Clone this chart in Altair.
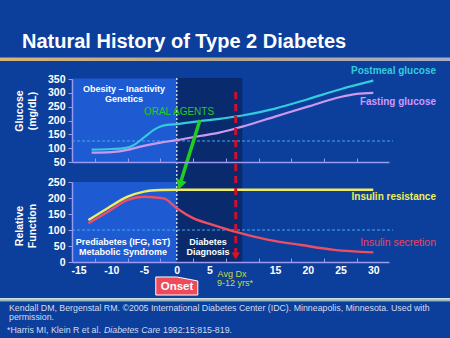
import altair as alt
import pandas as pd

# ---------------- data ----------------
postmeal_x = [-13, -10, -8, -6.5, -5, -3.5, -2.5, -1.5, 0, 3.5, 6.5, 10, 15, 20, 25, 30]
postmeal_y = [95, 97, 100, 112, 139, 166, 178, 184, 187, 198, 206, 218, 243, 277, 313, 344]

fasting_x = [-13, -10, -7.5, -6, -4.5, -2.5, 0, 3.5, 6.5, 10, 15, 20, 25, 27.5, 30]
fasting_y = [84, 86, 94, 103, 111, 120, 129, 144, 156, 178, 214, 250, 285, 296, 300]

resist_x = [-13.5, -10.5, -7.5, -5, -2.5, 0, 10, 20, 30]
resist_y = [131, 169, 204, 220, 225, 226, 226, 226, 226]

secret_x = [-13.5, -10.5, -7.5, -5, -2, 0, 2.5, 5.5, 8, 9, 14, 19, 24, 30]
secret_y = [121, 157, 194, 204, 199, 168, 137, 116, 100, 94, 69, 53, 38, 30]

glucose_ticks = [50, 100, 150, 200, 250, 300, 350]
function_ticks = [0, 50, 100, 150, 200, 250]
x_labels = [-15, -10, -5, 0, 5, 15, 20, 25, 30]
x_ticks = [-12.5, -7.5, -2.5, 2.5, 7.5, 12.5, 17.5, 22.5, 27.5, 32.5]

series_names = ["Postmeal glucose", "Fasting glucose", "Insulin resistance", "Insulin secretion"]
series_colors = ["#33ccdd", "#cc99ee", "#eeee66", "#ee4d66"]

onset_year = 0
diagnosis_end = 10
avg_dx_year = 9
glucose_threshold = 126
function_threshold = 100

# ---------------- style ----------------
FONT = "Liberation Sans"
BG = "#0c3e9b"
LIGHT = "#1e5ad2"
DARK = "#0a2a6e"
AX = "#9a9af0"
GREEN = "#22cc22"

XS = alt.Scale(domain=[-16, 32.4], range=[72, 389], nice=False, zero=False)
GS = alt.Scale(domain=[50, 350], range=[162, 79], nice=False, zero=False)
FS = alt.Scale(domain=[0, 250], range=[262, 182], nice=False, zero=False)
CS = alt.Scale(domain=series_names, range=series_colors)

ONE = alt.Data(values=[{"a": 0}])


def y_axis(vals):
    return alt.Axis(orient="left", offset=-72, values=vals, tickSize=4, labelPadding=3,
                    domainColor=AX, tickColor=AX, labelColor="white", labelFont=FONT,
                    labelFontWeight="bold", labelFontSize=10.5, grid=False, zindex=2,
                    title=None, domainWidth=1.5)


def txt(s, x, y, size=10, color="white", weight="bold", align="center", angle=None, style=None):
    kw = dict(text=s, fontSize=size, color=color, fontWeight=weight, align=align,
              baseline="middle", font=FONT)
    if angle is not None:
        kw["angle"] = angle
    if style is not None:
        kw["fontStyle"] = style
    return alt.Chart(ONE).mark_text(**kw).encode(x=alt.value(x), y=alt.value(y))


gl = pd.DataFrame({
    "year": postmeal_x + fasting_x,
    "value": postmeal_y + fasting_y,
    "series": [series_names[0]] * len(postmeal_x) + [series_names[1]] * len(fasting_x),
})
fn = pd.DataFrame({
    "year": resist_x + secret_x,
    "value": resist_y + secret_y,
    "series": [series_names[2]] * len(resist_x) + [series_names[3]] * len(secret_x),
})

layers = []

# title line & footer line
title_grad = alt.LinearGradient(gradient="linear", x1=0, x2=1, y1=0, y2=0, stops=[
    alt.GradientStop(color="#d8b474", offset=0),
    alt.GradientStop(color="#b8a890", offset=0.5),
    alt.GradientStop(color="#a8acc8", offset=1)])
layers.append(alt.Chart(ONE).mark_rect(color=title_grad).encode(
    x=alt.value(0), x2=alt.value(450), y=alt.value(57.5), y2=alt.value(61)))
foot_grad = alt.LinearGradient(gradient="linear", x1=0, x2=0, y1=0, y2=1, stops=[
    alt.GradientStop(color="#dde6ee", offset=0),
    alt.GradientStop(color="#7fa8a8", offset=1)])
layers.append(alt.Chart(ONE).mark_rect(color=foot_grad).encode(
    x=alt.value(0), x2=alt.value(450), y=alt.value(298), y2=alt.value(301.5)))

# light regions (before onset)
light_g = pd.DataFrame({"x0": [-16], "x1": [onset_year], "y0": [50], "y1": [352]})
light_f = pd.DataFrame({"x0": [-16], "x1": [onset_year], "y0": [0], "y1": [250]})
layers.append(alt.Chart(light_g).mark_rect(color=LIGHT).encode(
    x=alt.X("x0:Q", scale=XS, axis=None), x2="x1:Q",
    y=alt.Y("y0:Q", scale=GS, axis=None), y2="y1:Q"))
layers.append(alt.Chart(light_f).mark_rect(color=LIGHT).encode(
    x=alt.X("x0:Q", scale=XS, axis=None), x2="x1:Q",
    y=alt.Y("y0:Q", scale=FS, axis=None), y2="y1:Q"))

# dark diagnosis region
dark = pd.DataFrame({"x0": [onset_year], "x1": [diagnosis_end]})
layers.append(alt.Chart(dark).mark_rect(color=DARK).encode(
    x=alt.X("x0:Q", scale=XS, axis=None), x2="x1:Q",
    y=alt.value(78), y2=alt.value(262)))

# onset dotted line
layers.append(alt.Chart(ONE).mark_rule(color="white", strokeDash=[2, 2], strokeWidth=1.3, opacity=0.9).encode(
    x=alt.X(datum=onset_year, type="quantitative", scale=XS, axis=None),
    y=alt.value(78), y2=alt.value(262)))

# threshold dashed lines
layers.append(alt.Chart(ONE).mark_rule(color="#45a8f0", strokeDash=[3, 2], strokeWidth=1).encode(
    y=alt.Y(datum=glucose_threshold, type="quantitative", scale=GS, axis=None),
    x=alt.value(72), x2=alt.value(393)))
layers.append(alt.Chart(ONE).mark_rule(color="#45a8f0", strokeDash=[3, 2], strokeWidth=1).encode(
    y=alt.Y(datum=function_threshold, type="quantitative", scale=FS, axis=None),
    x=alt.value(72), x2=alt.value(393)))

# curves
layers.append(alt.Chart(gl).mark_line(strokeWidth=2.2, interpolate="monotone").encode(
    x=alt.X("year:Q", scale=XS, axis=None),
    y=alt.Y("value:Q", scale=GS, axis=y_axis(glucose_ticks)),
    color=alt.Color("series:N", scale=CS, legend=None)))
layers.append(alt.Chart(fn).mark_line(strokeWidth=2.4, interpolate="monotone").encode(
    x=alt.X("year:Q", scale=XS, axis=None),
    y=alt.Y("value:Q", scale=FS, axis=y_axis(function_ticks)),
    color=alt.Color("series:N", scale=CS, legend=None)))

# red dashed average diagnosis line + arrowhead
layers.append(alt.Chart(ONE).mark_rule(color="#cc1030", strokeDash=[7, 5], strokeWidth=3).encode(
    x=alt.X(datum=avg_dx_year, type="quantitative", scale=XS, axis=None),
    y=alt.value(92), y2=alt.value(253)))
layers.append(alt.Chart(ONE).mark_point(shape="triangle-down", filled=True, size=70, color="#dd1122", opacity=1).encode(
    x=alt.X(datum=avg_dx_year, type="quantitative", scale=XS, axis=None),
    y=alt.value(256)))

# green oral agents arrow
layers.append(alt.Chart(ONE).mark_rule(color=GREEN, strokeWidth=3.5).encode(
    x=alt.value(200), x2=alt.value(181), y=alt.value(120), y2=alt.value(181)))
layers.append(alt.Chart(ONE).mark_point(shape="triangle-down", filled=True, size=120, angle=17, color=GREEN, opacity=1).encode(
    x=alt.value(180), y=alt.value(185)))

# Onset box
layers.append(alt.Chart(ONE).mark_point(shape="M-1,-0.43L0,-0.43L0,-0.43L1,-0.24L1,0.43L-1,0.43L-1,-0.24Z",
                                        filled=True, size=1764, color="#ee4a5a", stroke="white",
                                        strokeWidth=1, opacity=1).encode(
    x=alt.X(datum=onset_year, type="quantitative", scale=XS, axis=None), y=alt.value(286)))
layers.append(txt("Onset", 177, 287, size=11.5))

# texts
layers.append(txt("Natural History of Type 2 Diabetes", 22, 42, size=20, align="left"))
layers.append(txt("Postmeal glucose", 436, 71, color="#33ccdd", align="right"))
layers.append(txt("Fasting glucose", 436, 102, color="#cc99ff", align="right"))
layers.append(txt("Insulin resistance", 436, 197, color="#eeee55", align="right"))
layers.append(txt("Insulin secretion", 436, 243, color="#ee4466", weight="normal", size=10.5, align="right"))
layers.append(txt("ORAL AGENTS", 179, 112, color=GREEN, weight="normal", size=10))
layers.append(txt("Obesity – Inactivity", 124, 89, size=9))
layers.append(txt("Genetics", 124, 99, size=9))
layers.append(txt("Prediabetes (IFG, IGT)", 123, 242, size=9))
layers.append(txt("Metabolic Syndrome", 123, 252, size=9))
layers.append(txt("Diabetes", 208, 242, size=9))
layers.append(txt("Diagnosis", 208, 252, size=9))
layers.append(txt("Avg  Dx", 232, 274, size=9, color="#c8dc3c", weight="normal"))
layers.append(txt("9-12 yrs*", 235, 283, size=9, color="#c8dc3c", weight="normal"))
layers.append(txt("Glucose", 20, 111, size=10.5, angle=270))
layers.append(txt("(mg/dL)", 33, 111, size=10.5, angle=270))
layers.append(txt("Relative", 20, 226, size=10.5, angle=270))
layers.append(txt("Function", 33, 226, size=10.5, angle=270))
FOOT = "#d4dcf0"
layers.append(txt("Kendall DM, Bergenstal RM. ©2005 International Diabetes Center (IDC). Minneapolis, Minnesota. Used with",
                  9, 308, size=8.8, color=FOOT, weight="normal", align="left"))
layers.append(txt("permission.", 9, 317, size=8.8, color=FOOT, weight="normal", align="left"))
layers.append(txt("*Harris MI, Klein R et al.", 7, 330, size=8.8, color=FOOT, weight="normal", align="left"))
layers.append(txt("Diabetes Care", 104, 330, size=8.8, color=FOOT, weight="normal", align="left", style="italic"))
layers.append(txt("1992:15;815-819.", 163, 330, size=8.8, color=FOOT, weight="normal", align="left"))

# x axes carriers
tick_df = pd.DataFrame({"t": x_ticks})
lab_df = pd.DataFrame({"t": x_labels})
common = dict(domainColor=AX, tickColor=AX, grid=False, zindex=2, title=None, domainWidth=1.5)
layers.append(alt.Chart(tick_df).mark_point(opacity=0).encode(
    x=alt.X("t:Q", scale=XS, axis=alt.Axis(orient="top", offset=-162, values=x_ticks, labels=False,
                                          tickSize=4, **common))))
layers.append(alt.Chart(tick_df).mark_point(opacity=0).encode(
    x=alt.X("t:Q", scale=XS, axis=alt.Axis(orient="top", offset=-262, values=x_ticks, labels=False,
                                          tickSize=4, **common))))
layers.append(alt.Chart(lab_df).mark_point(opacity=0).encode(
    x=alt.X("t:Q", scale=XS, axis=alt.Axis(orient="bottom", offset=-76, values=x_labels, ticks=False,
                                          domain=False, labelPadding=3, labelColor="white", labelFont=FONT,
                                          labelFontWeight="bold", labelFontSize=10.5,
                                          labelExpr="'' + datum.value", grid=False, zindex=2, title=None))))

chart = alt.layer(*layers).resolve_scale(y="independent").resolve_axis(
    x="independent", y="independent").properties(
    width=450, height=338, autosize=alt.AutoSizeParams(type="none"), padding=0
).configure(background=BG).configure_view(strokeWidth=0)

chart.save("out.html", embed_options={"renderer": "svg", "actions": False})
